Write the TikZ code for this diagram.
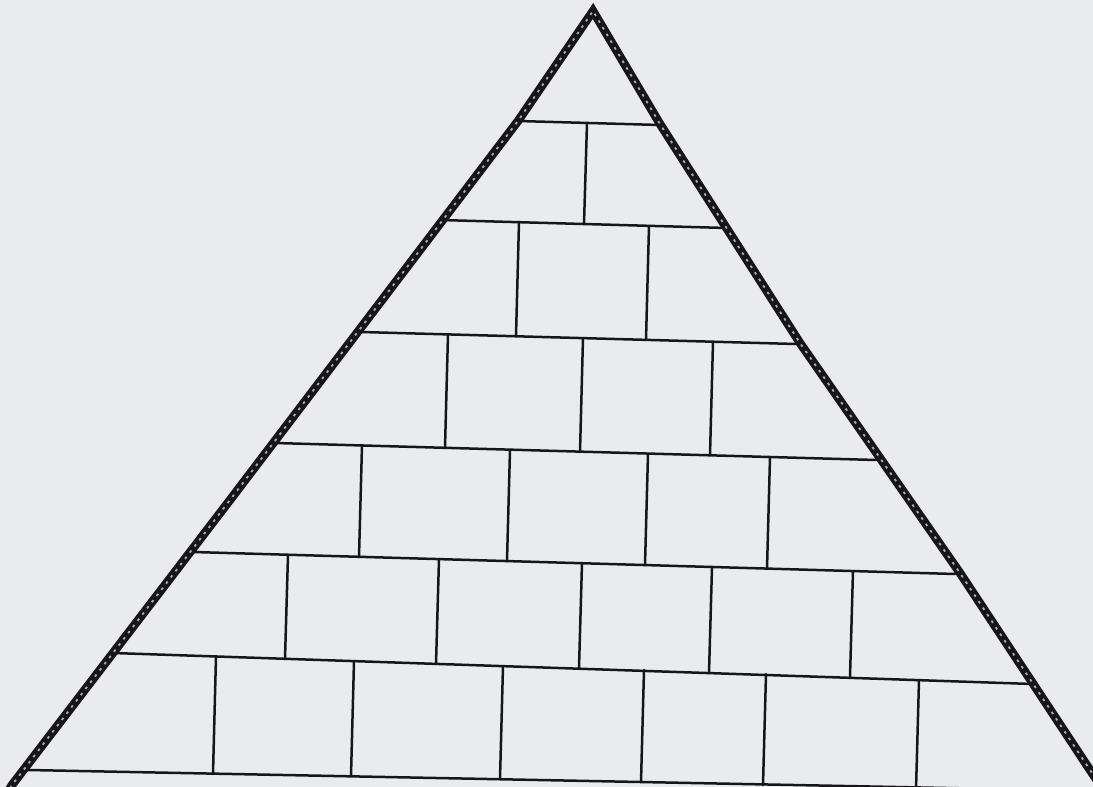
\documentclass[tikz,border=0pt]{standalone}
\definecolor{paper}{RGB}{233,235,239}
\definecolor{ink}{RGB}{22,22,24}
\begin{document}
\begin{tikzpicture}[x=0.5pt,y=-0.5pt,
  brick/.style={draw=ink,line width=1.25pt,line cap=round},
  side/.style={draw=ink,line width=4.3pt,line join=miter},
  sidetex/.style={draw=paper!70!ink,line width=0.9pt,dash pattern=on 1.3pt off 2.6pt}]
\fill[paper] (0,0) rectangle (1093,787);
\useasboundingbox (0,0) rectangle (1093,787);
\clip (0,0) rectangle (1093,787);
% course lines (left end / right end)
\coordinate (L1a) at (518,121); \coordinate (L1b) at (660,125);
\coordinate (L2a) at (440,220); \coordinate (L2b) at (727,228);
\coordinate (L3a) at (361,332); \coordinate (L3b) at (796,344);
\coordinate (L4a) at (275,443); \coordinate (L4b) at (876,460);
\coordinate (L5a) at (193,552); \coordinate (L5b) at (955,574);
\coordinate (L6a) at (113,653); \coordinate (L6b) at (1033,684);
\coordinate (L7a) at (28,770);  \coordinate (L7b) at (1100,791);
\foreach \i in {1,...,7} { \draw[brick] (L\i a) -- (L\i b); }
% vertical joints: xtop/ytop/xbottom/ybottom
\foreach \xa/\ya/\xb/\yb in {
  587/123/584/224,
  519/222/516/336, 649/226/646/340,
  448/334/445/448, 583/338/580/452, 713/342/710/455,
  362/445/359/557, 510/450/507/561, 648/454/645/565, 770/457/767/569,
  288/555/285/659, 439/559/436/664, 582/563/579/668, 712/567/709/673, 853/571/850/677,
  216/656/213/774, 354/661/351/776, 503/666/500/779, 644/670/641/782, 766/674/763/785, 919/680/916/790}
  { \draw[brick] (\xa,\ya) -- (\xb,\yb); }
% pyramid sides
\coordinate (apex) at (593,11);
\coordinate (bl) at (6,795);
\coordinate (br) at (1100,785);
\path[side] (bl) -- (12,785) -- (230,500) -- (382,300) -- (518,121) -- (apex)
  -- (660,124) -- (800,343) -- (960,573) -- (1090,770) -- (br);
\path[sidetex] (bl) -- (12,785) -- (230,500) -- (382,300) -- (518,121) -- (apex)
  -- (660,124) -- (800,343) -- (960,573) -- (1090,770) -- (br);
\end{tikzpicture}
\end{document}
